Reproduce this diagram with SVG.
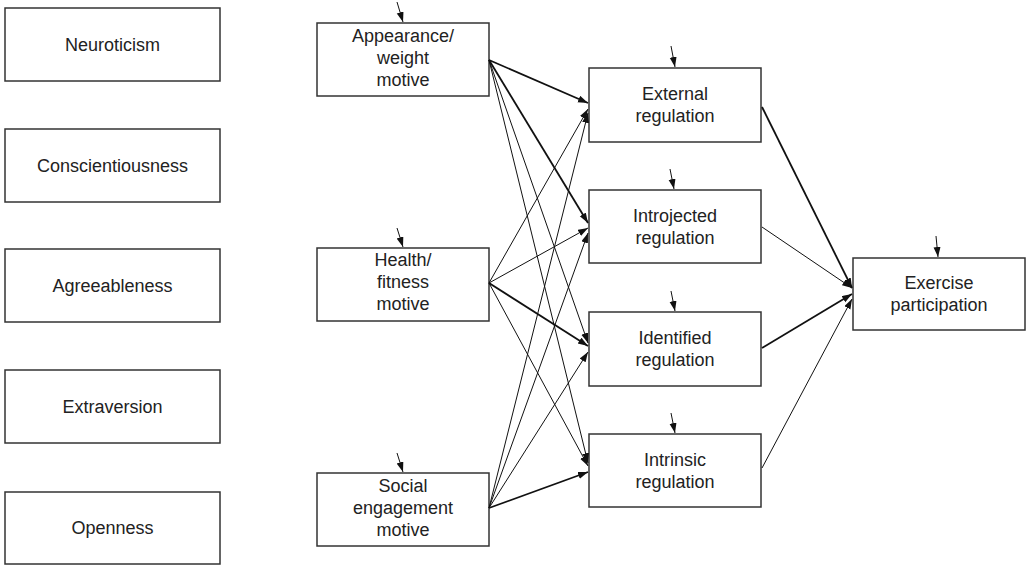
<svg xmlns="http://www.w3.org/2000/svg" width="1026" height="565" viewBox="0 0 1026 565">
<style>
  .box { fill: #fff; stroke: #333; stroke-width: 1.5; }
  .lbl { font-family: "Liberation Sans", Arial, sans-serif; font-size: 18px; fill: #222; text-anchor: middle; }
  .thin { stroke: #111; stroke-width: 1; fill: none; }
  .thick { stroke: #111; stroke-width: 1.8; fill: none; }
</style>
<defs>
  <marker id="ah" markerUnits="userSpaceOnUse" markerWidth="11" markerHeight="8" refX="10" refY="3.5" orient="auto">
    <path d="M0,0 L10,3.5 L0,7 z" fill="#111"/>
  </marker>
</defs>
<rect width="1026" height="565" fill="#fff"/>

<g id="neuroticism"><rect class="box" x="5" y="8" width="215" height="73"/><text class="lbl" x="112.5" y="51">Neuroticism</text></g>
<g id="conscientiousness"><rect class="box" x="5" y="129" width="215" height="73"/><text class="lbl" x="112.5" y="171.5">Conscientiousness</text></g>
<g id="agreeableness"><rect class="box" x="5" y="249" width="215" height="73"/><text class="lbl" x="112.5" y="291.5">Agreeableness</text></g>
<g id="extraversion"><rect class="box" x="5" y="370" width="215" height="73"/><text class="lbl" x="112.5" y="412.5">Extraversion</text></g>
<g id="openness"><rect class="box" x="5" y="492" width="215" height="72"/><text class="lbl" x="112.5" y="534">Openness</text></g>

<g id="appearance"><rect class="box" x="317" y="23" width="172" height="73"/>
  <text class="lbl" x="403" y="42">Appearance/</text><text class="lbl" x="403" y="64">weight</text><text class="lbl" x="403" y="86">motive</text></g>
<g id="health"><rect class="box" x="317" y="248" width="172" height="73"/>
  <text class="lbl" x="403" y="266">Health/</text><text class="lbl" x="403" y="288">fitness</text><text class="lbl" x="403" y="310">motive</text></g>
<g id="social"><rect class="box" x="317" y="473" width="172" height="73"/>
  <text class="lbl" x="403" y="492">Social</text><text class="lbl" x="403" y="514">engagement</text><text class="lbl" x="403" y="536">motive</text></g>

<g id="external"><rect class="box" x="589" y="68" width="172" height="74"/>
  <text class="lbl" x="675" y="100">External</text><text class="lbl" x="675" y="122">regulation</text></g>
<g id="introjected"><rect class="box" x="589" y="190" width="172" height="73"/>
  <text class="lbl" x="675" y="222">Introjected</text><text class="lbl" x="675" y="244">regulation</text></g>
<g id="identified"><rect class="box" x="589" y="312" width="172" height="74"/>
  <text class="lbl" x="675" y="344">Identified</text><text class="lbl" x="675" y="366">regulation</text></g>
<g id="intrinsic"><rect class="box" x="589" y="434" width="172" height="73"/>
  <text class="lbl" x="675" y="466">Intrinsic</text><text class="lbl" x="675" y="488">regulation</text></g>

<g id="exercise"><rect class="box" x="853" y="258" width="172" height="72"/>
  <text class="lbl" x="939" y="289">Exercise</text><text class="lbl" x="939" y="311">participation</text></g>

<g id="connectors">
  <!-- disturbance arrows -->
  <line class="thin" x1="397" y1="2" x2="403" y2="22" marker-end="url(#ah)"/>
  <line class="thin" x1="397" y1="228" x2="403" y2="247" marker-end="url(#ah)"/>
  <line class="thin" x1="397" y1="453" x2="403" y2="472" marker-end="url(#ah)"/>
  <line class="thin" x1="671" y1="46" x2="675" y2="67" marker-end="url(#ah)"/>
  <line class="thin" x1="670" y1="169" x2="674" y2="189" marker-end="url(#ah)"/>
  <line class="thin" x1="671" y1="291" x2="675" y2="311" marker-end="url(#ah)"/>
  <line class="thin" x1="671" y1="413" x2="675" y2="433" marker-end="url(#ah)"/>
  <line class="thin" x1="936" y1="236" x2="938" y2="257" marker-end="url(#ah)"/>

  <!-- Appearance -->
  <line class="thick" x1="489" y1="60" x2="588" y2="103" marker-end="url(#ah)"/>
  <line class="thick" x1="489" y1="60" x2="588" y2="223" marker-end="url(#ah)"/>
  <line class="thin" x1="489" y1="60" x2="588" y2="343" marker-end="url(#ah)"/>
  <line class="thin" x1="489" y1="60" x2="588" y2="463" marker-end="url(#ah)"/>
  <!-- Health -->
  <line class="thin" x1="489" y1="283" x2="588" y2="109" marker-end="url(#ah)"/>
  <line class="thin" x1="489" y1="283" x2="588" y2="228" marker-end="url(#ah)"/>
  <line class="thick" x1="489" y1="283" x2="588" y2="346" marker-end="url(#ah)"/>
  <line class="thin" x1="489" y1="283" x2="588" y2="466" marker-end="url(#ah)"/>
  <!-- Social -->
  <line class="thin" x1="489" y1="508" x2="588" y2="113" marker-end="url(#ah)"/>
  <line class="thin" x1="489" y1="508" x2="588" y2="233" marker-end="url(#ah)"/>
  <line class="thin" x1="489" y1="508" x2="588" y2="352" marker-end="url(#ah)"/>
  <line class="thick" x1="489" y1="508" x2="588" y2="472" marker-end="url(#ah)"/>

  <!-- Regulations to exercise -->
  <line class="thick" x1="762" y1="107" x2="852" y2="288" marker-end="url(#ah)"/>
  <line class="thin" x1="762" y1="227" x2="852" y2="288" marker-end="url(#ah)"/>
  <line class="thick" x1="762" y1="348" x2="852" y2="294" marker-end="url(#ah)"/>
  <line class="thin" x1="762" y1="468" x2="852" y2="299" marker-end="url(#ah)"/>
</g>
</svg>
